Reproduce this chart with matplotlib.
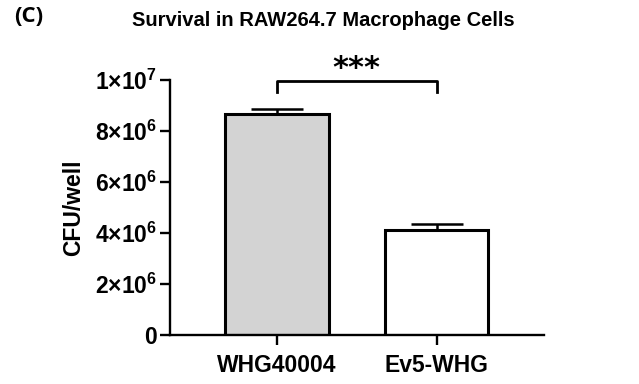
import matplotlib
matplotlib.use("Agg")
import matplotlib.pyplot as plt
import numpy as np

plt.rcParams['font.family'] = ['Liberation Sans', 'DejaVu Sans']
plt.rcParams['mathtext.fontset'] = 'custom'
plt.rcParams['mathtext.rm'] = 'Liberation Sans:bold'
plt.rcParams['mathtext.bf'] = 'Liberation Sans:bold'
plt.rcParams['mathtext.it'] = 'Liberation Sans:bold'

categories = ["WHG40004", "Ev5-WHG"]
means = [8.67e6, 4.12e6]
errors = [0.19e6, 0.22e6]
colors = ["#d3d3d3", "#ffffff"]
ytick_vals = [0, 2e6, 4e6, 6e6, 8e6, 1e7]
ytick_labels = ["0", "2×10$^{6}$", "4×10$^{6}$", "6×10$^{6}$", "8×10$^{6}$", "1×10$^{7}$"]
title = "Survival in RAW264.7 Macrophage Cells"
ylabel = "CFU/well"
sig = "***"

fig = plt.figure(figsize=(6.39, 3.84), dpi=100)
ax = fig.add_axes([170/639, 1-335/384, (544-170)/639, (335-80)/384])

x = np.arange(len(categories))
ax.bar(x, means, width=0.65, color=colors, edgecolor='black', linewidth=2.2, zorder=2)
ax.errorbar(x, means, yerr=[[0]*len(errors), errors], fmt='none', ecolor='black',
            elinewidth=1.8, capsize=18.5, capthick=1.8, zorder=1)

ax.set_xlim(-0.666, 1.672)
ax.set_ylim(0, 1e7)
ax.set_yticks(ytick_vals)
ax.set_yticklabels(ytick_labels)
ax.set_xticks(x)
ax.set_xticklabels(categories)
for lab in ax.get_xticklabels() + ax.get_yticklabels():
    lab.set_fontweight('bold')
    lab.set_fontsize(16.5)
ax.tick_params(axis='both', length=7.5, width=1.7, color='black')
ax.tick_params(axis='y', pad=2)
ax.tick_params(axis='x', pad=6)
for s in ['top', 'right']:
    ax.spines[s].set_visible(False)
for s in ['left', 'bottom']:
    ax.spines[s].set_linewidth(1.7)

ax.set_ylabel(ylabel, fontsize=16.5, fontweight='bold', labelpad=7)

# significance bracket
yb = 9.96e6
yl = 9.53e6
ax.plot([x[0], x[0], x[1], x[1]], [yl, yb, yb, yl], color='black', lw=2.0, clip_on=False)
ax.text((x[0] + x[1]) / 2, 10.47e6, sig, ha='center', va='center', fontsize=22,
        fontweight='bold', family=['DejaVu Sans'])

fig.text(323/639, 1-20/384, title, ha='center', va='center', fontsize=14.5, fontweight='bold')
fig.text(14/639, 1-17/384, "(C)", ha='left', va='center', fontsize=16, fontweight='bold',
         family=['Open Sans', 'DejaVu Sans'])

fig.savefig("out.png", dpi=100)
